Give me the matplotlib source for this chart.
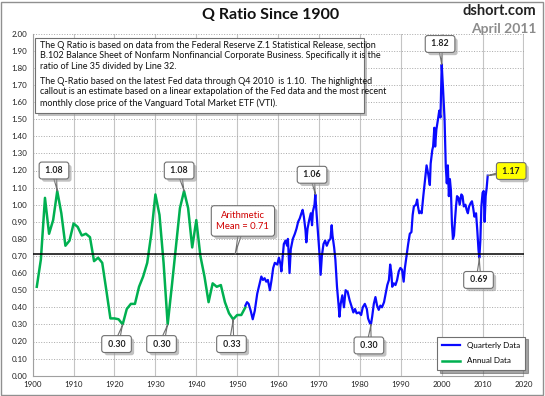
import numpy as np
import matplotlib.pyplot as plt
import matplotlib.patheffects as pe
from matplotlib.patches import FancyBboxPatch
from matplotlib.lines import Line2D

plt.rcParams['font.family'] = ['Lato', 'DejaVu Sans']

# annual data (year-end values), 1900s - early 1950s
annual_years = list(range(1901, 1953))
annual_q = [0.52, 0.68, 1.04, 0.83, 0.91, 1.08, 0.95, 0.76, 0.79, 0.89,
            0.87, 0.82, 0.83, 0.81, 0.67, 0.69, 0.66, 0.50, 0.335, 0.335,
            0.33, 0.30, 0.39, 0.42, 0.42, 0.52, 0.58, 0.66, 0.83, 1.06,
            0.94, 0.66, 0.30, 0.52, 0.75, 0.98, 1.08, 0.98, 0.75, 0.91,
            0.70, 0.58, 0.43, 0.54, 0.52, 0.53, 0.43, 0.365, 0.33, 0.355,
            0.355, 0.40]

# quarterly data 1952 - Q1 2011 (last point is the estimate)
quarterly_years = [
    1952.0, 1952.4, 1952.8, 1953.3, 1953.8, 1954.3, 1954.9, 1955.4, 1955.9, 1956.3,
    1956.7, 1957.1, 1957.5, 1958.0, 1958.4, 1958.8, 1959.2, 1959.8, 1960.2, 1960.6,
    1960.8, 1961.1, 1961.4, 1961.8, 1962.2, 1962.4, 1962.8, 1963.1, 1963.6, 1964.1,
    1964.5, 1964.9, 1965.3, 1965.7, 1966.0, 1966.3, 1966.7, 1966.9, 1967.2, 1967.6,
    1968.0, 1968.3, 1968.5, 1968.9, 1969.1, 1969.4, 1969.8, 1970.1, 1970.4, 1970.7,
    1971.1, 1971.5, 1971.9, 1972.4, 1972.8, 1973.1, 1973.3, 1973.7, 1974.0, 1974.4,
    1974.8, 1975.0, 1975.3, 1975.7, 1976.1, 1976.5, 1977.0, 1977.5, 1977.9, 1978.4,
    1978.8, 1979.2, 1979.8, 1980.3, 1980.7, 1981.2, 1981.7, 1982.0, 1982.4, 1982.7,
    1983.0, 1983.4, 1983.8, 1984.2, 1984.6, 1985.0, 1985.4, 1985.9, 1986.3, 1986.7,
    1987.1, 1987.4, 1987.7, 1987.9, 1988.3, 1988.7, 1989.1, 1989.5, 1989.9, 1990.3,
    1990.7, 1991.0, 1991.4, 1991.8, 1992.2, 1992.6, 1992.9, 1993.2, 1993.7, 1994.0,
    1994.2, 1994.5, 1994.8, 1995.1, 1995.5, 1995.9, 1996.3, 1996.7, 1997.1, 1997.3,
    1997.7, 1997.9, 1998.2, 1998.4, 1998.7, 1999.1, 1999.4, 1999.7, 2000.0, 2000.3,
    2000.7, 2001.0, 2001.25, 2001.5, 2001.75, 2002.0, 2002.25, 2002.5, 2002.75, 2003.0,
    2003.25, 2003.5, 2003.75, 2004.1, 2004.4, 2004.8, 2005.1, 2005.4, 2005.8, 2006.1,
    2006.4, 2006.7, 2007.1, 2007.4, 2007.7, 2008.0, 2008.4, 2008.7, 2009.0, 2009.2,
    2009.45, 2009.7, 2010.0, 2010.25, 2010.5, 2010.75, 2011.0, 2011.25]
quarterly_q = [
    0.41, 0.43, 0.42, 0.38, 0.33, 0.38, 0.48, 0.53, 0.58, 0.56,
    0.57, 0.55, 0.56, 0.50, 0.56, 0.63, 0.66, 0.65, 0.69, 0.65,
    0.61, 0.69, 0.77, 0.79, 0.76, 0.80, 0.60, 0.74, 0.80, 0.83,
    0.86, 0.90, 0.92, 0.95, 0.97, 0.93, 0.85, 0.78, 0.86, 0.91,
    0.95, 0.88, 0.96, 1.00, 1.06, 0.95, 0.82, 0.72, 0.59, 0.70,
    0.77, 0.79, 0.76, 0.79, 0.80, 0.88, 0.82, 0.75, 0.68, 0.52,
    0.41, 0.345, 0.42, 0.47, 0.40, 0.50, 0.49, 0.44, 0.41, 0.37,
    0.39, 0.365, 0.37, 0.355, 0.40, 0.42, 0.39, 0.335, 0.31, 0.30,
    0.345, 0.42, 0.46, 0.41, 0.385, 0.41, 0.40, 0.43, 0.48, 0.53,
    0.56, 0.65, 0.60, 0.52, 0.54, 0.53, 0.56, 0.61, 0.63, 0.62,
    0.55, 0.63, 0.70, 0.77, 0.83, 0.84, 0.94, 0.99, 1.00, 1.03,
    0.99, 0.95, 0.96, 0.95, 1.05, 1.14, 1.23, 1.18, 1.115, 1.24,
    1.32, 1.34, 1.45, 1.34, 1.44, 1.50, 1.55, 1.51, 1.82, 1.69,
    1.50, 1.22, 1.125, 1.23, 1.05, 1.15, 1.085, 0.89, 0.80, 0.82,
    0.91, 0.99, 1.05, 1.04, 1.00, 1.06, 1.05, 0.99, 1.00, 0.97,
    0.95, 0.99, 1.01, 1.02, 0.98, 0.93, 0.95, 0.85, 0.735, 0.69,
    0.79, 0.99, 1.07, 1.08, 0.90, 1.05, 1.10, 1.17]

mean_q = 0.71

x_ticks = list(range(1900, 2021, 10))
y_ticks = [round(v * 0.1, 1) for v in range(21)]

callout_text = ['1.08', '1.08', '0.30', '0.30', '0.33', '1.06', '0.30', '0.69', '1.82', '1.17']
callout_tip_x = [1906, 1937, 1922, 1933, 1949, 1969.1, 1982.7, 2009.2, 2000.0, 2011.25]
callout_tip_y = [1.08, 1.08, 0.30, 0.30, 0.33, 1.06, 0.30, 0.69, 1.82, 1.17]
callout_box_x = [1905.2, 1935.8, 1920.5, 1931.5, 1948.6, 1968.3, 1982.2, 2009.0, 1999.6, 2017.0]
callout_box_y = [1.20, 1.20, 0.185, 0.185, 0.185, 1.175, 0.177, 0.56, 1.94, 1.197]

info_para1 = ("The Q Ratio is based on data from the Federal Reserve Z.1 Statistical Release, section\n"
              "B.102 Balance Sheet of Nonfarm Nonfinancial Corporate Business. Specifically it is the\n"
              "ratio of Line 35 divided by Line 32.")
info_para2 = ("The Q-Ratio based on the latest Fed data through Q4 2010  is 1.10.  The highlighted\n"
              "callout is an estimate based on a linear extapolation of the Fed data and the most recent\n"
              "monthly close price of the Vanguard Total Market ETF (VTI).")

W, H = 545, 396
fig = plt.figure(figsize=(W / 100, H / 100), dpi=100)
ax = fig.add_axes([32.7 / W, 1 - 375.7 / H, 490.8 / W, 342 / H])

shadow = [pe.withSimplePatchShadow(offset=(2, -2), shadow_rgbFace='#999999', alpha=0.6)]

ax.plot(annual_years, annual_q, color='#00B050', lw=1.8, zorder=3)
ax.plot(quarterly_years, quarterly_q, color='#0A0AFF', lw=1.6, zorder=3)
ax.axhline(mean_q, color='black', lw=1.1, zorder=4)

ax.set_xlim(1900, 2020)
ax.set_ylim(0, 2.0)
ax.set_xticks(x_ticks)
ax.set_yticks(y_ticks)
ax.set_yticklabels(['%.2f' % v for v in y_ticks])
ax.tick_params(length=0, labelsize=5.8, colors='#222222', pad=4)
ax.xaxis.grid(True, color='#c4c4c4', lw=0.8)
ax.yaxis.grid(True, color='#a8a8a8', lw=0.7, linestyle=':')
ax.set_axisbelow(True)
for side in ['top', 'right']:
    ax.spines[side].set_visible(False)
for side in ['left', 'bottom']:
    ax.spines[side].set_color('#a0a0a0')
    ax.spines[side].set_linewidth(0.8)

# callouts
for i, txt in enumerate(callout_text):
    yellow = txt == '1.17'
    ann = ax.annotate(' ' + txt + ' ', xy=(callout_tip_x[i], callout_tip_y[i]),
                      xytext=(callout_box_x[i], callout_box_y[i]),
                      ha='center', va='center', fontsize=6.3, fontweight='bold', color='#222222',
                      bbox=dict(boxstyle='round,pad=0.45,rounding_size=0.3',
                                fc='#FFFF00' if yellow else 'white', ec='#707070', lw=0.8),
                      arrowprops=dict(arrowstyle='wedge,tail_width=0.6,shrink_factor=0.4',
                                      fc='#FFFF00' if yellow else 'white', ec='#707070', lw=0.8,
                                      patchA=None, shrinkA=0, shrinkB=0),
                      zorder=6)
    ann.get_bbox_patch().set_path_effects(shadow)

ann = ax.annotate('Arithmetic\nMean = 0.71', xy=(1949.5, mean_q), xytext=(1951.4, 0.905),
                  ha='center', va='center', fontsize=6.8, color='#D00000', linespacing=1.3,
                  bbox=dict(boxstyle='round,pad=0.55,rounding_size=0.3', fc='white', ec='#707070', lw=0.8),
                  arrowprops=dict(arrowstyle='wedge,tail_width=0.7,shrink_factor=0.4',
                                  fc='white', ec='#707070', lw=0.8,
                                  patchA=None, shrinkA=0, shrinkB=0),
                  zorder=6)
ann.get_bbox_patch().set_path_effects(shadow)

# info box
box = FancyBboxPatch((35 / W, 1 - 113 / H), 329 / W, 75 / H, boxstyle='square,pad=0',
                     transform=fig.transFigure, fc='white', ec='#707070', lw=0.8, zorder=7)
box.set_path_effects(shadow)
fig.add_artist(box)
fig.text(40 / W, 1 - 40.5 / H, info_para1, fontsize=6.5, va='top', ha='left',
         linespacing=1.27, color='#111111', zorder=8)
fig.text(40 / W, 1 - 76.5 / H, info_para2, fontsize=6.5, va='top', ha='left',
         linespacing=1.27, color='#111111', zorder=8)

# legend
handles = [Line2D([], [], color='#0A0AFF', lw=1.6), Line2D([], [], color='#00B050', lw=1.8)]
leg = ax.legend(handles, ['Quarterly Data', 'Annual Data'], loc='lower right',
                bbox_to_anchor=(1.012, 0.005), fontsize=5.8, frameon=True, fancybox=False,
                shadow=True, handlelength=2.2, borderpad=0.7, labelspacing=1.0, framealpha=1)
leg.get_frame().set_edgecolor('#707070')
leg.get_frame().set_linewidth(0.8)

fig.text(0.497, 1 - 15 / H, 'Q Ratio Since 1900', ha='center', va='center',
         fontsize=11.5, fontweight='bold', color='#111111')
fig.text(536 / W, 1 - 11 / H, 'dshort.com', ha='right', va='center',
         fontsize=10.5, fontweight='bold', color='#222222')
fig.text(536 / W, 1 - 29 / H, 'April 2011', ha='right', va='center',
         fontsize=10, fontweight='bold', color='#8c8c8c')

frame = FancyBboxPatch((1 / W, 1 / H), (W - 3) / W, (H - 3) / H, boxstyle='square,pad=0',
                       transform=fig.transFigure, fc='none', ec='#909090', lw=1.0)
fig.add_artist(frame)

fig.savefig('out.png', dpi=100)
